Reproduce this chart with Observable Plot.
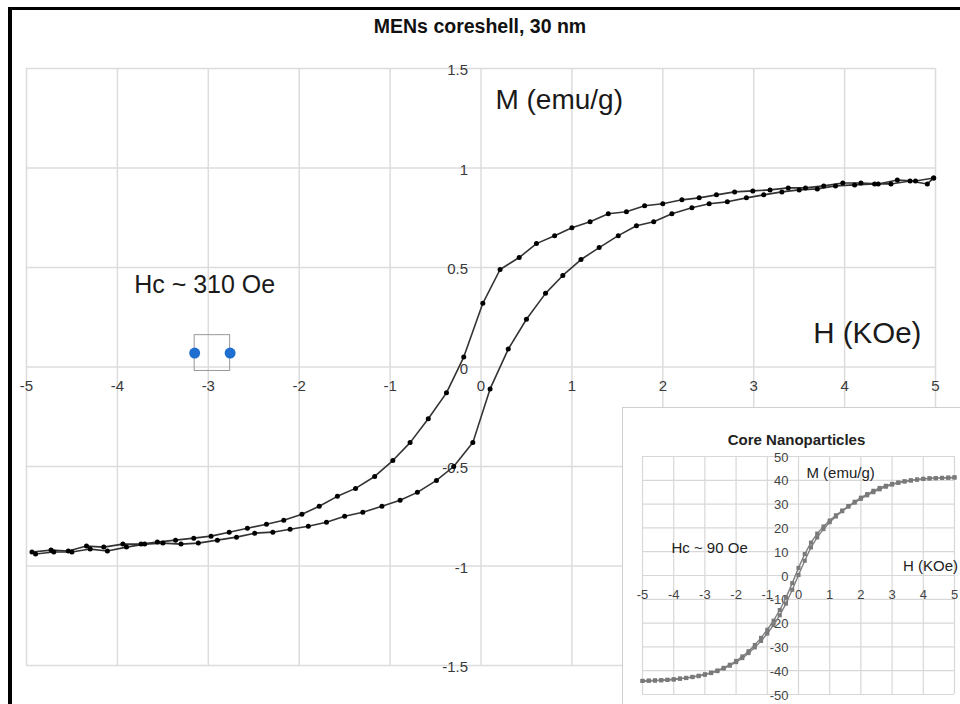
<!DOCTYPE html>
<html>
<head>
<meta charset="utf-8">
<script src="https://cdn.jsdelivr.net/npm/d3@7"></script>
<script src="https://cdn.jsdelivr.net/npm/@observablehq/plot@0.6"></script>
<style>
  html, body { margin: 0; padding: 0; background: #fff; }
  body { position: relative; width: 960px; height: 704px; overflow: hidden; font-family: "Liberation Sans", Arial, Helvetica, sans-serif; }
  #frame { position: absolute; left: 8px; top: 7px; width: 960px; height: 710px; border-left: 4px solid #000; border-top: 3px solid #000; pointer-events: none; z-index: 5; }
  #title { position: absolute; left: 0; top: 15px; width: 960px; text-align: center; font-weight: bold; font-size: 19.5px; color: #111; z-index: 3; }
  #main { position: absolute; left: 0; top: 0; }
  #insetBox { position: absolute; left: 622px; top: 407px; width: 360px; height: 320px; background: #fff; border: 1px solid #cfcfcf; z-index: 2; }
  #inset { position: absolute; left: 0; top: 0; }
</style>
</head>
<body>
<div id="frame"></div>
<div id="title">MENs coreshell, 30 nm</div>
<div id="main"></div>
<div id="insetBox"><div id="inset"></div></div>
<script>
// ---- Main chart data: descending branch (from +5 kOe to -5 kOe) ----
const descH = [4.98, 4.78, 4.58, 4.37, 4.18, 3.98, 3.77, 3.57, 3.38, 3.18, 2.99, 2.79, 2.59, 2.40, 2.21, 2.00, 1.80, 1.60, 1.40, 1.20, 1.00, 0.81, 0.61, 0.42, 0.21, 0.02, -0.19, -0.38, -0.58, -0.78, -0.97, -1.17, -1.38, -1.58, -1.78, -1.97, -2.17, -2.36, -2.57, -2.77, -2.97, -3.16, -3.36, -3.56, -3.74, -3.94, -4.15, -4.34, -4.54, -4.73, -4.94];
const descM = [0.95, 0.935, 0.94, 0.92, 0.925, 0.925, 0.91, 0.90, 0.90, 0.89, 0.885, 0.88, 0.865, 0.85, 0.84, 0.82, 0.81, 0.78, 0.77, 0.73, 0.70, 0.66, 0.62, 0.55, 0.49, 0.32, 0.05, -0.13, -0.26, -0.38, -0.47, -0.55, -0.61, -0.65, -0.70, -0.74, -0.77, -0.79, -0.81, -0.83, -0.85, -0.86, -0.87, -0.88, -0.89, -0.89, -0.905, -0.90, -0.925, -0.92, -0.93];
// ---- ascending branch (from -5 kOe to +5 kOe) ----
const ascH = [-4.90, -4.70, -4.50, -4.30, -4.11, -3.90, -3.70, -3.50, -3.30, -3.11, -2.90, -2.69, -2.49, -2.29, -2.10, -1.90, -1.70, -1.50, -1.30, -1.09, -0.89, -0.70, -0.49, -0.30, -0.09, 0.10, 0.30, 0.50, 0.71, 0.90, 1.10, 1.30, 1.51, 1.71, 1.90, 2.10, 2.32, 2.51, 2.71, 2.92, 3.11, 3.31, 3.50, 3.70, 3.90, 4.11, 4.33, 4.51, 4.72, 4.91, 4.98];
const ascM = [-0.94, -0.93, -0.93, -0.915, -0.925, -0.905, -0.89, -0.885, -0.89, -0.885, -0.87, -0.855, -0.835, -0.83, -0.815, -0.80, -0.78, -0.75, -0.73, -0.70, -0.67, -0.63, -0.57, -0.50, -0.38, -0.11, 0.09, 0.24, 0.37, 0.46, 0.54, 0.60, 0.66, 0.71, 0.73, 0.77, 0.80, 0.82, 0.83, 0.85, 0.865, 0.88, 0.89, 0.895, 0.91, 0.915, 0.92, 0.92, 0.935, 0.92, 0.95];

const xTicks = [-5, -4, -3, -2, -1, 0, 1, 2, 3, 4, 5];
const yTicks = [-1.5, -1, -0.5, 0, 0.5, 1, 1.5];
const yTickLabels = ["-1.5", "-1", "-0.5", "0", "0.5", "1", "1.5"];

// annotations (data coordinates)
const mainNotes = [
  {x: 0.86, y: 1.34, text: "M (emu/g)", size: 28},
  {x: 4.25, y: 0.166, text: "H (KOe)", size: 29.5},
  {x: -3.04, y: 0.41, text: "Hc ~ 310 Oe", size: 25}
];
const hcDotsH = [-3.15, -2.76];
const hcDotsM = [0.07, 0.07];
const hcBox = {x1: -3.15, x2: -2.76, y1: -0.02, y2: 0.16};

// ---- Inset (Core Nanoparticles) ----
const inDescH = [5.0, 4.8, 4.6, 4.4, 4.2, 4.0, 3.8, 3.6, 3.4, 3.2, 3.0, 2.8, 2.6, 2.4, 2.2, 2.0, 1.8, 1.6, 1.4, 1.2, 1.0, 0.8, 0.6, 0.4, 0.2, 0.0, -0.2, -0.4, -0.6, -0.8, -1.0, -1.2, -1.4, -1.6, -1.8, -2.0, -2.2, -2.4, -2.6, -2.8, -3.0, -3.2, -3.4, -3.6, -3.8, -4.0, -4.2, -4.4, -4.6, -4.8, -5.0];
const inDescM = [41.2, 41.1, 41.0, 40.9, 40.8, 40.6, 40.3, 40.0, 39.6, 39.1, 38.5, 37.7, 36.8, 35.6, 34.2, 32.7, 31.0, 29.2, 27.3, 25.3, 23.1, 20.6, 17.6, 13.8, 9.0, 3.2, -3.2, -9.3, -14.5, -19.0, -22.8, -26.2, -29.2, -31.8, -34.0, -35.9, -37.5, -38.8, -39.9, -40.8, -41.5, -42.1, -42.6, -43.0, -43.3, -43.6, -43.8, -44.0, -44.1, -44.2, -44.3];
const inAscH = [-5.0, -4.8, -4.6, -4.4, -4.2, -4.0, -3.8, -3.6, -3.4, -3.2, -3.0, -2.8, -2.6, -2.4, -2.2, -2.0, -1.8, -1.6, -1.4, -1.2, -1.0, -0.8, -0.6, -0.4, -0.2, 0.0, 0.2, 0.4, 0.6, 0.8, 1.0, 1.2, 1.4, 1.6, 1.8, 2.0, 2.2, 2.4, 2.6, 2.8, 3.0, 3.2, 3.4, 3.6, 3.8, 4.0, 4.2, 4.4, 4.6, 4.8, 5.0];
const inAscM = [-44.3, -44.2, -44.1, -44.0, -43.9, -43.7, -43.4, -43.1, -42.7, -42.3, -41.7, -41.0, -40.2, -39.1, -37.9, -36.4, -34.7, -32.6, -30.2, -27.5, -24.4, -20.8, -16.7, -11.8, -6.0, 0.2, 6.2, 11.8, 16.0, 19.5, 22.4, 24.8, 27.0, 28.9, 30.6, 32.2, 33.7, 35.0, 36.2, 37.3, 38.2, 38.9, 39.5, 39.9, 40.3, 40.6, 40.8, 40.9, 41.0, 41.1, 41.2];
const inXTicks = [-5, -4, -3, -2, -1, 0, 1, 2, 3, 4, 5];
const inYTicks = [-50, -40, -30, -20, -10, 0, 10, 20, 30, 40, 50];
const inNotes = [
  {x: 1.35, y: 42.9, text: "M (emu/g)"},
  {x: 4.23, y: 3.8, text: "H (KOe)"},
  {x: -2.85, y: 11.3, text: "Hc ~ 90 Oe"}
];
const insetTitle = "Core Nanoparticles";

// ---- build tables ----
const desc = descH.map((h, i) => ({h, m: descM[i]}));
const asc = ascH.map((h, i) => ({h, m: ascM[i]}));
const dots = hcDotsH.map((h, i) => ({h, m: hcDotsM[i]}));
const yLab = yTicks.map((y, i) => ({y, t: yTickLabels[i]}));
const FONT = "Liberation Sans, Arial, Helvetica, sans-serif";

const main = Plot.plot({
  width: 960, height: 704,
  marginLeft: 26, marginRight: 25, marginTop: 68, marginBottom: 39,
  style: {fontFamily: FONT, background: "transparent", overflow: "visible"},
  x: {domain: [-5, 5], axis: null},
  y: {domain: [-1.5, 1.5], axis: null},
  marks: [
    Plot.gridX(xTicks, {stroke: "#dcdcdc", strokeOpacity: 1, strokeWidth: 1.5}),
    Plot.gridY(yTicks, {stroke: "#dcdcdc", strokeOpacity: 1, strokeWidth: 1.5}),
    Plot.text(xTicks, {x: d => d, y: 0, text: d => String(d), dy: 19, fontSize: 15, fill: "#3a3a3a"}),
    Plot.text(yLab, {x: 0, y: "y", text: "t", dx: -13, dy: 2, textAnchor: "end", fontSize: 15, fill: "#3a3a3a"}),
    Plot.rect([hcBox], {x1: "x1", x2: "x2", y1: "y1", y2: "y2", fill: "none", stroke: "#999", strokeWidth: 1}),
    Plot.dot(dots, {x: "h", y: "m", r: 5.5, fill: "#1f6fd1", stroke: "none"}),
    Plot.line(desc, {x: "h", y: "m", stroke: "#333", strokeWidth: 1.6}),
    Plot.line(asc, {x: "h", y: "m", stroke: "#333", strokeWidth: 1.6}),
    Plot.dot(desc, {x: "h", y: "m", r: 2.5, fill: "#000", stroke: "none"}),
    Plot.dot(asc, {x: "h", y: "m", r: 2.5, fill: "#000", stroke: "none"}),
    Plot.text(mainNotes, {x: "x", y: "y", text: "text", fontSize: d => d.size, fill: "#1a1a1a"})
  ]
});
document.getElementById("main").appendChild(main);

const inDesc = inDescH.map((h, i) => ({h, m: inDescM[i]}));
const inAsc = inAscH.map((h, i) => ({h, m: inAscM[i]}));

const inset = Plot.plot({
  width: 338, height: 297,
  marginLeft: 19, marginRight: 7, marginTop: 48, marginBottom: 11,
  style: {fontFamily: FONT, background: "transparent", overflow: "visible"},
  x: {domain: [-5, 5], axis: null},
  y: {domain: [-50, 50], axis: null},
  marks: [
    Plot.gridX(inXTicks, {stroke: "#d8d8d8", strokeOpacity: 1, strokeWidth: 1.2}),
    Plot.gridY(inYTicks, {stroke: "#d8d8d8", strokeOpacity: 1, strokeWidth: 1.2}),
    Plot.text([insetTitle], {frameAnchor: "top", text: d => d, dy: -22, dx: -2, fontSize: 15, fontWeight: "bold", fill: "#222"}),
    Plot.text(inXTicks, {x: d => d, y: 0, text: d => String(d), dy: 19, fontSize: 13, fill: "#444"}),
    Plot.text(inYTicks, {x: 0, y: d => d, text: d => String(d), dx: -10, dy: 1, textAnchor: "end", fontSize: 13, fill: "#444"}),
    Plot.line(inDesc, {x: "h", y: "m", stroke: "#808080", strokeWidth: 1.4}),
    Plot.line(inAsc, {x: "h", y: "m", stroke: "#808080", strokeWidth: 1.4}),
    Plot.dot(inDesc, {x: "h", y: "m", r: 2.3, symbol: "square", fill: "#7a7a7a", stroke: "none"}),
    Plot.dot(inAsc, {x: "h", y: "m", r: 2.3, symbol: "square", fill: "#7a7a7a", stroke: "none"}),
    Plot.text(inNotes, {x: "x", y: "y", text: "text", fontSize: 15, fill: "#222"})
  ]
});
document.getElementById("inset").appendChild(inset);
</script>
</body>
</html>
